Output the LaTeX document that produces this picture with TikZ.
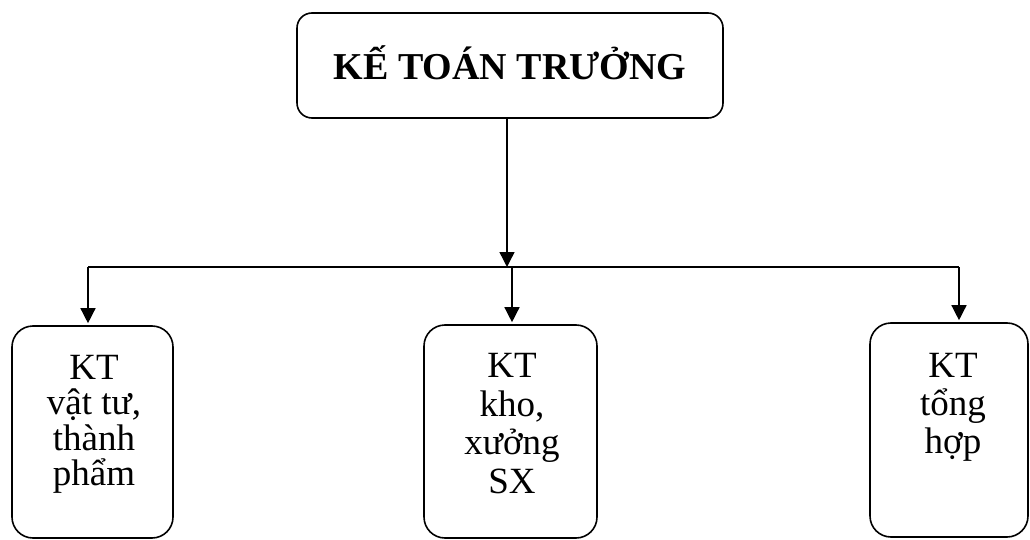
\documentclass[tikz,border=0pt]{standalone}
\usepackage{fontspec}
\setmainfont{Liberation Serif}
\usetikzlibrary{arrows.meta}

\begin{document}
\begin{tikzpicture}[x=1pt,y=-1pt,
  box/.style={draw, line width=1.6pt, rounded corners=21pt, inner sep=0pt},
  headbox/.style={draw, line width=1.6pt, rounded corners=15pt, inner sep=0pt},
  label/.style={align=center, inner sep=0pt, anchor=north,
    font=\fontsize{37}{37}\selectfont},
  wire/.style={line width=1.4pt},
  arr/.style={wire, -{Triangle[width=15pt,length=15pt]}}
]
\useasboundingbox (0,0) rectangle (1030,540);

% head of department
\node[headbox, minimum width=426pt, minimum height=105pt] (kt) at (510,65.5) {};
\node[font=\fontsize{38}{38}\selectfont\bfseries, anchor=base, inner sep=0pt] (ktlabel) at (510,80) {KẾ TOÁN TRƯỞNG};

% three accountant boxes
\node[box, minimum width=161pt, minimum height=212pt] (vt) at (92.5,432) {};
\node[box, minimum width=173pt, minimum height=213pt] (kx) at (510.5,431.5) {};
\node[box, minimum width=158pt, minimum height=214pt] (th) at (949,430) {};

\node[label, font=\fontsize{37}{35.3}\selectfont] (vtlabel) at (94,355) {KT\\vật tư,\\thành\\phẩm};
\node[label, font=\fontsize{37}{38.7}\selectfont] (kxlabel) at (512,353) {KT\\kho,\\xưởng\\SX};
\node[label, font=\fontsize{37}{38}\selectfont] (thlabel) at (953,353) {KT\\tổng\\hợp};

% distribution bus
\coordinate (j)  at (507,267);
\coordinate (jl) at (88,267);
\coordinate (jm) at (512,267);
\coordinate (jr) at (959,267);

\draw[arr] (kt.south -| j) -- (j);
\draw[wire] (jl) -- (jr);
\draw[arr, shorten >=2pt] (jl) -- (vt.north -| jl);
\draw[arr, shorten >=2pt] (jm) -- (kx.north -| jm);
\draw[arr, shorten >=2pt] (jr) -- (th.north -| jr);
\end{tikzpicture}
\end{document}
